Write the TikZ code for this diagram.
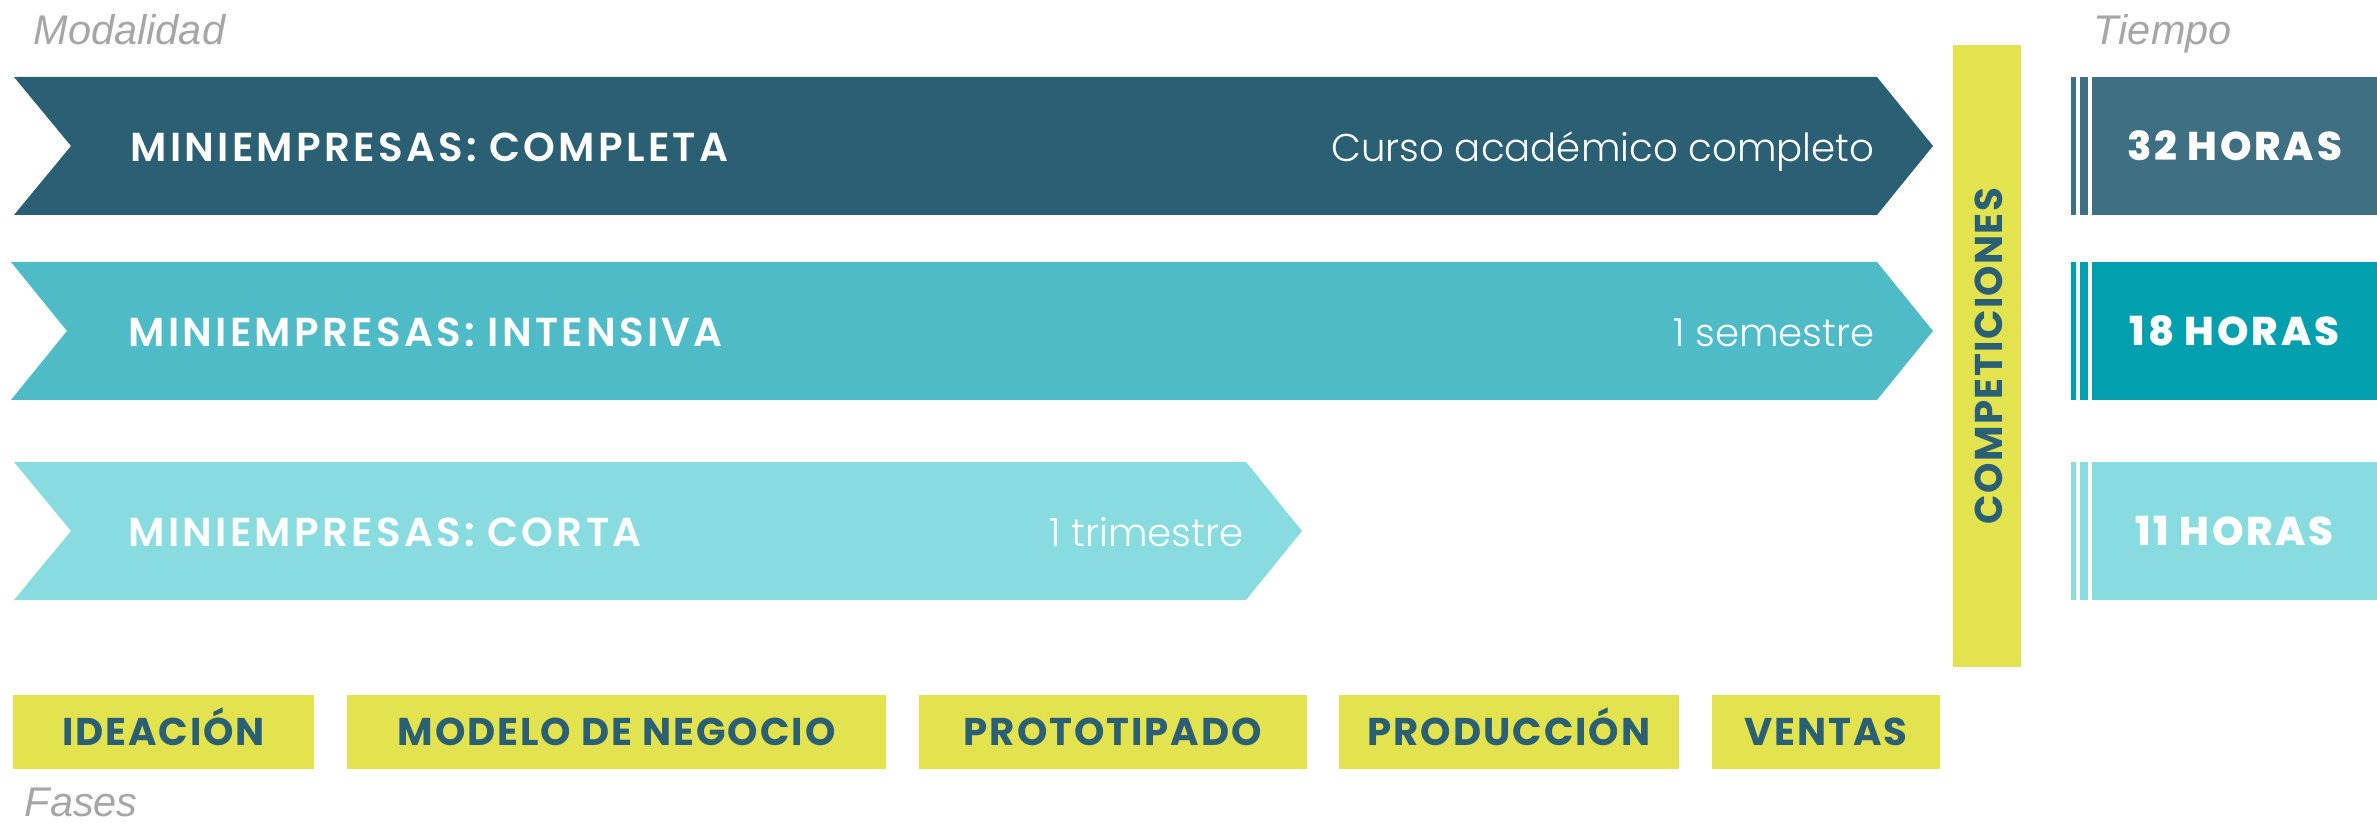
\documentclass[tikz,border=0pt]{standalone}
\usepackage{fontspec}
\usetikzlibrary{positioning}
\setmainfont{Poppins}
\newfontfamily\semifont{Poppins SemiBold}[LetterSpace=8]
\newfontfamily\lightfont{Poppins Light}
\newfontfamily\heavyfont{Poppins ExtraBold}[LetterSpace=7]
\newfontfamily\phasefont{Poppins Bold}[LetterSpace=5]
\newfontfamily\competfont{Poppins Bold}[LetterSpace=3.5]
\newfontfamily\greyfont{Liberation Sans}

\definecolor{tealdark}{HTML}{2A5F74}
\definecolor{tealmid}{HTML}{4EBBC7}
\definecolor{teallight}{HTML}{88DCE0}
\definecolor{hourdark}{HTML}{3E6F82}
\definecolor{hourmid}{HTML}{02A0AF}
\definecolor{phaseyellow}{HTML}{E2E34E}
\definecolor{labelgrey}{HTML}{A6A6A6}

\begin{document}
\begin{tikzpicture}[x=0.01cm,y=-0.01cm,
      modal label/.style={anchor=base west,inner sep=0,text=white,font=\semifont\fontsize{11.5}{12}\selectfont},
      span label/.style={anchor=base east,inner sep=0,text=white,font=\lightfont\fontsize{11}{12}\selectfont},
      axis label/.style={anchor=base west,inner sep=0,text depth=0pt,text=labelgrey,font=\greyfont\itshape\fontsize{11.8}{12}\selectfont},
      hour box/.style={minimum width=28.45mm,minimum height=13.8mm,inner sep=0,text height=8pt,text depth=0pt,
        text=white,font=\heavyfont\fontsize{11.4}{12}\selectfont},
      phase/.style={fill=phaseyellow,minimum height=7.4mm,inner sep=0,text height=7.8pt,text depth=0pt,
        text=tealdark,font=\phasefont\fontsize{11}{12}\selectfont}]
 \useasboundingbox (0,0) rectangle (2377,825);

 % modalidades
 \fill[tealdark] (14,77) -- (1877,77) -- (1933,146) -- (1877,215) -- (14,215) -- (71,146) -- cycle;
 \fill[tealmid] (11,262) -- (1877,262) -- (1933,331) -- (1877,400) -- (11,400) -- (67,331) -- cycle;
 \fill[teallight] (14,462) -- (1246,462) -- (1302,531) -- (1246,600) -- (14,600) -- (71,531) -- cycle;

 \node[modal label] (completa) at (130,162) {MINIEMPRESAS: COMPLETA};
 \node[modal label] (intensiva) at (128,347) {MINIEMPRESAS: INTENSIVA};
 \node[modal label] (corta) at (128,547) {MINIEMPRESAS: CORTA};
 \node[span label] (curso) at (1875,162) {Curso académico completo};
 \node[span label] (semestre) at (1875,347) {1 semestre};
 \node[span label] (trimestre) at (1244,547) {1 trimestre};

 % competiciones
 \fill[phaseyellow] (1953,45) rectangle (2021,667);
 \node[anchor=base,inner sep=0,rotate=90,text=tealdark,font=\competfont\fontsize{11}{12}\selectfont]
   (compet) at (2002,356) {COMPETICIONES};

 % tiempo
 \foreach \y/\c in {77/hourdark,262/hourmid,462/teallight} {
   \fill[\c] (2071,\y) rectangle (2076,\y+138);
   \fill[\c] (2080,\y) rectangle (2088,\y+138);
 }
 \node[hour box,fill=hourdark] (h32) at (2234.5,146) {32 HORAS};
 \node[hour box,fill=hourmid] (h18) at (2234.5,331) {18 HORAS};
 \node[hour box,fill=teallight] (h11) at (2234.5,531) {11 HORAS};

 % fases
 \node[phase,minimum width=30.1mm] (ideacion) at (163.5,732) {IDEACIÓN};
 \node[phase,minimum width=53.9mm,right=3.15mm of ideacion] (modelo) {MODELO DE NEGOCIO};
 \node[phase,minimum width=38.8mm,right=3.1mm of modelo] (prototipo) {PROTOTIPADO};
 \node[phase,minimum width=33.9mm,right=3.1mm of prototipo] (produccion) {PRODUCCIÓN};
 \node[phase,minimum width=22.8mm,right=3.2mm of produccion] (ventas) {VENTAS};

 \node[axis label] (modalidad) at (33,45) {Modalidad};
 \node[axis label] (tiempo) at (2093,45) {Tiempo};
 \node[axis label] (fases) at (24,817) {Fases};
\end{tikzpicture}
\end{document}
